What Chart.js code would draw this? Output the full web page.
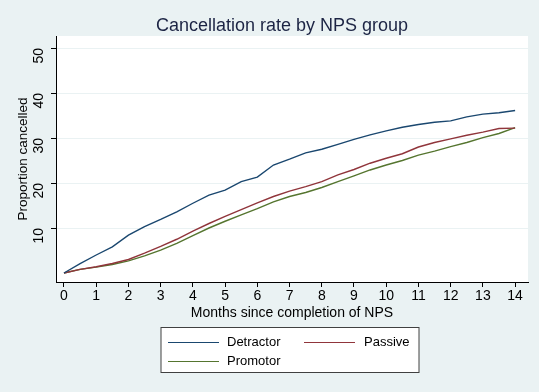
<!DOCTYPE html>
<html>
<head>
<meta charset="utf-8">
<script src="https://cdn.jsdelivr.net/npm/chart.js@4.4.1/dist/chart.umd.min.js"></script>
<style>
  html, body { margin: 0; padding: 0; background: #eaf2f3; }
  #wrap { width: 539px; height: 392px; position: relative; }
</style>
</head>
<body>
<div id="wrap"><canvas id="c" width="539" height="392"></canvas></div>
<script>
const chartTitle = "Cancellation rate by NPS group";
const xAxisTitle = "Months since completion of NPS";
const yAxisTitle = "Proportion cancelled";
const months = [0, 0.5, 1, 1.5, 2, 2.5, 3, 3.5, 4, 4.5, 5, 5.5, 6, 6.5, 7, 7.5, 8, 8.5, 9, 9.5, 10, 10.5, 11, 11.5, 12, 12.5, 13, 13.5, 14];
const detractor = [0, 2.1, 4.0, 5.8, 8.4, 10.3, 11.9, 13.6, 15.5, 17.3, 18.4, 20.3, 21.3, 24.0, 25.3, 26.7, 27.5, 28.6, 29.7, 30.7, 31.6, 32.4, 33.0, 33.5, 33.8, 34.7, 35.3, 35.6, 36.1];
const passive   = [0, 0.8, 1.4, 2.1, 3.0, 4.4, 5.9, 7.5, 9.3, 11.0, 12.6, 14.1, 15.6, 17.0, 18.2, 19.2, 20.3, 21.8, 23.0, 24.4, 25.5, 26.5, 28.0, 29.0, 29.8, 30.6, 31.3, 32.1, 32.2];
const promotor  = [0, 0.8, 1.3, 1.9, 2.7, 3.8, 5.1, 6.6, 8.3, 10.0, 11.5, 12.9, 14.3, 15.8, 17.0, 17.9, 19.0, 20.3, 21.6, 22.9, 24.0, 25.0, 26.2, 27.1, 28.1, 29.0, 30.1, 31.0, 32.3];
const xTicks = [0, 1, 2, 3, 4, 5, 6, 7, 8, 9, 10, 11, 12, 13, 14];
const yTicks = [10, 20, 30, 40, 50];
const seriesNames = ["Detractor", "Passive", "Promotor"];
const seriesColors = ["#1a476f", "#90353b", "#55752f"];

const FONT = "'Liberation Sans', Arial, Helvetica, sans-serif";

function pts(arr) { return months.map((m, i) => ({ x: m, y: arr[i] })); }

const decor = {
  id: 'decor',
  beforeDraw(chart) {
    const ctx = chart.ctx, a = chart.chartArea;
    ctx.save();
    ctx.fillStyle = '#eaf2f3';
    ctx.fillRect(0, 0, chart.width, chart.height);
    ctx.fillStyle = '#ffffff';
    ctx.fillRect(a.left, a.top, a.right - a.left, a.bottom - a.top);
    ctx.restore();
  },
  afterDraw(chart) {
    const ctx = chart.ctx;
    ctx.save();
    ctx.fillStyle = '#1c2444';
    ctx.font = "18px " + FONT;
    ctx.textAlign = 'center';
    ctx.textBaseline = 'middle';
    ctx.fillText(chartTitle, 282, 26);
    const bx = 161, by = 327.5, bw = 258, bh = 45;
    ctx.fillStyle = '#ffffff';
    ctx.fillRect(bx, by, bw, bh);
    ctx.strokeStyle = '#404040';
    ctx.lineWidth = 1;
    ctx.strokeRect(bx, by, bw, bh);
    const items = [
      { x: 168, y: 342.5 },
      { x: 304, y: 342.5 },
      { x: 168, y: 361.5 }
    ];
    ctx.font = "13px " + FONT;
    ctx.textAlign = 'left';
    items.forEach((it, i) => {
      ctx.strokeStyle = seriesColors[i];
      ctx.lineWidth = 1.2;
      ctx.beginPath();
      ctx.moveTo(it.x, it.y);
      ctx.lineTo(it.x + 51, it.y);
      ctx.stroke();
      ctx.fillStyle = '#000000';
      ctx.fillText(seriesNames[i], it.x + (i === 1 ? 60 : 59), it.y);
    });
    ctx.restore();
  }
};

new Chart(document.getElementById('c'), {
  type: 'line',
  data: {
    datasets: [
      { label: seriesNames[0], data: pts(detractor), borderColor: seriesColors[0] },
      { label: seriesNames[1], data: pts(passive), borderColor: seriesColors[1] },
      { label: seriesNames[2], data: pts(promotor), borderColor: seriesColors[2] }
    ].map(d => Object.assign(d, { borderWidth: 1.4, pointRadius: 0, tension: 0, fill: false }))
  },
  options: {
    responsive: false,
    animation: false,
    layout: { padding: { top: 36, right: 11, bottom: 70, left: 0 } },
    plugins: { legend: { display: false }, title: { display: false }, tooltip: { enabled: false } },
    scales: {
      x: {
        type: 'linear',
        min: -0.248, max: 14.4,
        afterBuildTicks: s => { s.ticks = xTicks.map(v => ({ value: v })); },
        afterFit: s => { s.height = 40; },
        grid: { drawOnChartArea: false, tickLength: 5, tickColor: '#000000' },
        border: { color: '#000000', width: 1 },
        ticks: { color: '#000000', font: { family: FONT, size: 14 }, padding: 1, maxRotation: 0, autoSkip: false },
        title: { display: true, text: xAxisTitle, color: '#000000', font: { family: FONT, size: 14 }, padding: { top: 0, bottom: 0 } }
      },
      y: {
        type: 'linear',
        min: -2, max: 52.67,
        afterBuildTicks: s => { s.ticks = yTicks.map(v => ({ value: v })); },
        afterFit: s => { s.width = 56; },
        grid: { color: '#eaf2f3', lineWidth: 1, tickLength: 5, tickColor: '#000000' },
        border: { color: '#000000', width: 1 },
        ticks: { color: '#000000', font: { family: FONT, size: 14 }, padding: 12, minRotation: 90, maxRotation: 90 },
        title: { display: true, text: yAxisTitle, color: '#000000', font: { family: FONT, size: 13.5 }, padding: { top: 15, bottom: 0 } }
      }
    }
  },
  plugins: [decor]
});
</script>
</body>
</html>
